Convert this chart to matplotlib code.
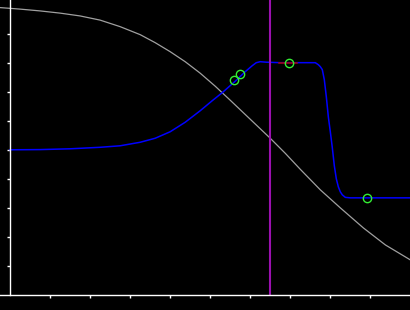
import matplotlib
matplotlib.use("Agg")
import matplotlib.pyplot as plt

# Data (x in axis units, y in axis units)
gray_x = [-0.25, 0.25, 0.75, 1.25, 1.75, 2.25, 2.75, 3.25, 3.625, 4.0, 4.375, 4.75, 5.125,
          5.5, 6.0, 6.5, 6.875, 7.25, 7.75, 8.25, 8.825, 9.375, 10.0]
gray_y = [9.897, 9.845, 9.783, 9.707, 9.610, 9.466, 9.241, 8.966, 8.690, 8.379, 8.034, 7.638,
          7.190, 6.707, 6.052, 5.397, 4.879, 4.328, 3.621, 3.0, 2.310, 1.724, 1.207]

blue_x = [0, 0.75, 1.5, 2.25, 2.75, 3.25, 3.625, 4.0, 4.375, 4.75, 5.05, 5.3, 5.625, 5.875,
          6.05, 6.15, 6.25, 6.4, 6.75, 7.625, 7.7, 7.75, 7.8, 7.85, 7.9, 7.95, 8.0, 8.05, 8.1,
          8.15, 8.2, 8.25, 8.3, 8.375, 8.5, 10.0]
blue_y = [5.0, 5.007, 5.034, 5.086, 5.138, 5.259, 5.397, 5.621, 5.948, 6.345, 6.690, 6.966,
          7.362, 7.690, 7.897, 8.0, 8.034, 8.017, 8.0, 8.0, 7.931, 7.862, 7.759, 7.414, 6.828,
          6.138, 5.621, 5.069, 4.448, 4.0, 3.724, 3.552, 3.448, 3.362, 3.345, 3.345]

red_x = [6.725, 7.175]
red_y = [8.0, 8.0]

marker_x = [5.6, 5.75, 6.975, 8.925]
marker_y = [7.41, 7.62, 8.0, 3.34]

vline_x = 6.5
xticks = [1, 2, 3, 4, 5, 6, 7, 8, 9]
yticks = [1, 2, 3, 4, 5, 6, 7, 8, 9]

fig = plt.figure(figsize=(4.104, 3.104), dpi=100, facecolor="black")
ax = fig.add_axes([0, 15 / 310, 1, 295 / 310])
ax.set_facecolor("black")
ax.set_xlim(-0.25, 10)
ax.set_ylim(0, 295 / 29)

ax.plot(gray_x, gray_y, color="#a0a0a0", lw=0.9, clip_on=False)
ax.plot(blue_x, blue_y, color="#0000ff", lw=1.1)
ax.plot(red_x, red_y, color="#b00000", lw=1.1)
ax.axvline(vline_x, color="#9a10b0", lw=1.5)
ax.plot(marker_x, marker_y, ls="none", marker="o", ms=6, mfc="none", mec="#33ee33", mew=1.0)

for s in ["top", "right"]:
    ax.spines[s].set_visible(False)
ax.spines["left"].set_position(("data", 0))
ax.spines["left"].set_color("white")
ax.spines["bottom"].set_color("white")
ax.spines["left"].set_linewidth(1.0)
ax.spines["bottom"].set_linewidth(1.0)
ax.set_xticks(xticks)
ax.set_yticks(yticks)
ax.tick_params(colors="white", direction="out", length=2.5, width=1.0,
               labelbottom=False, labelleft=False)

fig.savefig("out.png", dpi=100, facecolor="black")
